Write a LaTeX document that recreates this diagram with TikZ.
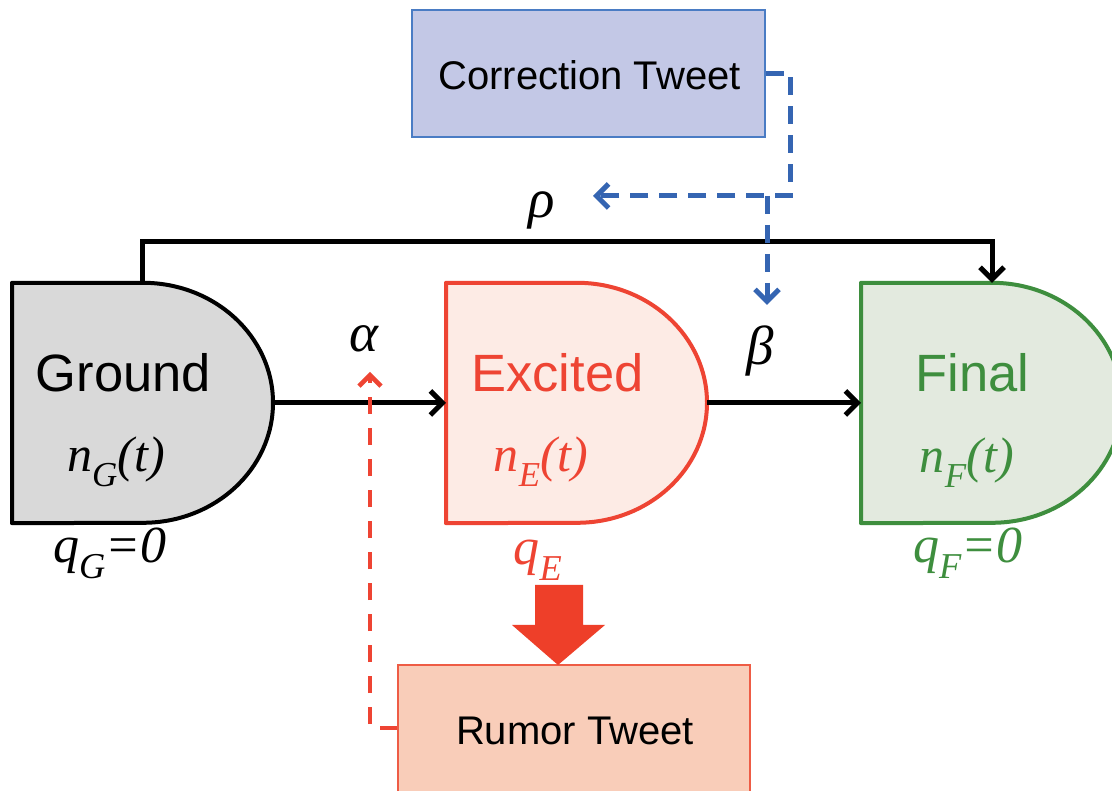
\documentclass[tikz,border=0pt]{standalone}
\usepackage{fontspec}
\setmainfont{Liberation Serif}
\newfontfamily\labelsans{Liberation Sans}
\usetikzlibrary{arrows.meta,calc}

\definecolor{groundfill}{HTML}{D9D9D9}
\definecolor{excitedfill}{HTML}{FDEBE5}
\definecolor{exciteddraw}{HTML}{EE4433}
\definecolor{finalfill}{HTML}{E3EADF}
\definecolor{finaldraw}{HTML}{3E8E3E}
\definecolor{corrfill}{HTML}{C3C8E6}
\definecolor{corrdraw}{HTML}{4A7CC4}
\definecolor{rumorfill}{HTML}{F9CDB9}
\definecolor{rumordraw}{HTML}{EE5C45}
\definecolor{corrline}{HTML}{3565B2}
\definecolor{rumorline}{HTML}{EE4433}
\definecolor{blockred}{HTML}{EE3F29}

% D-shaped state: straight left side, half-ellipse on the right
\newcommand\dstate[3]{%
  \filldraw[fill=#2, draw=#3, line width=4pt, line join=round]
    (#1.north west) -- ([xshift=131pt]#1.north west)
    arc[start angle=90, end angle=-90, x radius=130pt, y radius=120pt]
    -- (#1.south west) -- cycle;}

\tikzset{
  statebox/.style={rectangle, draw=none, inner sep=0pt,
    minimum width=261pt, minimum height=240pt, anchor=west},
  statename/.style={font=\labelsans\fontsize{52.5}{52.5}\selectfont, anchor=base, inner sep=0pt},
  poplabel/.style={font=\itshape\fontsize{50}{50}\selectfont, anchor=base, inner sep=0pt},
  qlabel/.style={font=\itshape\fontsize{52}{52}\selectfont, anchor=base, inner sep=0pt},
  ratelabel/.style={font=\itshape\fontsize{55}{55}\selectfont, anchor=base, inner sep=0pt},
  tweetbox/.style={rectangle, line width=1.5pt, inner sep=0pt},
  tweettext/.style={font=\labelsans\fontsize{40}{40}\selectfont, anchor=base, inner sep=0pt},
  flow/.style={line width=5pt, line join=miter,
    -{Straight Barb[length=12pt, width=24pt]}},
  corrflow/.style={corrline, line width=5pt, dash pattern=on 18pt off 11pt,
    -{Straight Barb[length=12pt, width=24pt]}},
  rumorflow/.style={rumorline, line width=4.5pt, dash pattern=on 17pt off 14pt,
    -{Straight Barb[length=11pt, width=22pt]}},
}

\begin{document}
\begin{tikzpicture}[x=1pt, y=1pt]
\useasboundingbox (0,0) rectangle (1112,791);
\fill[white] (0,0) rectangle (1112,791);

% tweet boxes
\node[tweetbox, fill=corrfill, draw=corrdraw, minimum width=353pt, minimum height=127pt]
  (correction) at (588.5,717.5) {};
\node[tweetbox, fill=rumorfill, draw=rumordraw, minimum width=352pt, minimum height=132pt]
  (rumor) at (574,60) {};
\node[tweettext] (corrtext) at (589.5,701) {Correction Tweet};
\node[tweettext] (rumortext) at (575,46) {Rumor Tweet};

% states
\node[statebox] (ground) at (12,388) {};
\node[statebox] (excited) at (446,388) {};
\node[statebox] (final) at (861,388) {};
\dstate{ground}{groundfill}{black}
\dstate{excited}{excitedfill}{exciteddraw}
\dstate{final}{finalfill}{finaldraw}

\node[statename] (gname) at (123.5,399) {Ground};
\node[statename, text=exciteddraw] (ename) at (557.5,399) {Excited};
\node[statename, text=finaldraw] (fname) at (972.5,399) {Final};

\node[poplabel] (nG) at (116,319) {n\textsubscript{G}(t)};
\node[poplabel, text=exciteddraw] (nE) at (541,319) {n\textsubscript{E}(t)};
\node[poplabel, text=finaldraw] (nF) at (967,318) {n\textsubscript{F}(t)};

\node[qlabel] (qG) at (110,228) {q\textsubscript{G}=0};
\node[qlabel, text=exciteddraw] (qE) at (538,226) {q\textsubscript{E}};
\node[qlabel, text=finaldraw] (qF) at (968,228) {q\textsubscript{F}=0};

% rate labels
\node[ratelabel] (alpha) at (364,439) {α};
\node[ratelabel] (beta) at (760,426) {β};
\node[ratelabel] (rho) at (542,573) {ρ};

% transitions
\draw[flow] (ground.east) -- (excited.west);
\draw[flow] (excited.east) -- (final.west);
\draw[flow] ([xshift=130pt]ground.north west) -- ++(0,41pt)
  -| ([xshift=131pt]final.north west);

% correction tweet influence
\coordinate (rhoTip) at (593,595);
\coordinate (betaFork) at (767,595);
\coordinate (betaTip) at (767,486);
\draw[corrflow] (correction.east) -- ++(25pt,0) |- (rhoTip);
\draw[corrflow] (betaFork) -- (betaTip);

% rumor tweet influence
\coordinate (alphaTip) at (370,419);
\draw[rumorflow] ([yshift=3pt]rumor.west) -| (alphaTip);

% block arrow from excited users to rumor tweets
\fill[blockred] (535,206) -- (583,206) -- (583,166) -- (605,166)
  -- (558,126) -- (512,166) -- (535,166) -- cycle;
\end{tikzpicture}
\end{document}
